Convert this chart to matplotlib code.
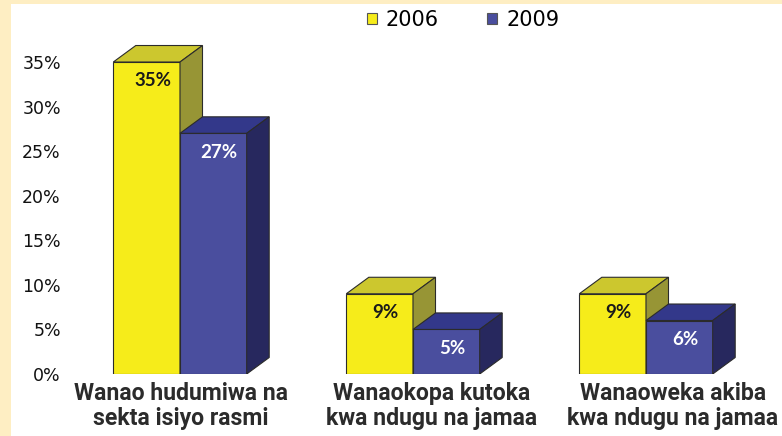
import matplotlib
matplotlib.use("Agg")
import matplotlib.pyplot as plt
from matplotlib.patches import Polygon, Rectangle, Patch
from matplotlib.ticker import FuncFormatter
from matplotlib.transforms import offset_copy

# ---- data ----
categories = ["Wanao hudumiwa na\nsekta isiyo rasmi",
              "Wanaokopa kutoka\nkwa ndugu na jamaa",
              "Wanaoweka akiba\nkwa ndugu na jamaa"]
series = ["2006", "2009"]
v2006 = [35, 9, 9]
v2009 = [27, 5, 6]
yticks = [0, 5, 10, 15, 20, 25, 30, 35]

# ---- style ----
cream = "#FEEEC3"
front = ["#F6EC1A", "#4A4E9E"]
top_c = ["#CCC72E", "#33388A"]
side_c = ["#979535", "#27285E"]
lab_c = ["#1a1a1a", "#ffffff"]
edge = "#2b2b2b"
label_shift_px = [1, 19, 27]   # horizontal nudge of category labels

W, H, DPI = 782, 436, 100
fig = plt.figure(figsize=(W / DPI, H / DPI), dpi=DPI)
fig.patch.set_facecolor(cream)
fig.add_artist(Rectangle((11 / W, 0), 1 - 11 / W, (H - 4) / H,
                         transform=fig.transFigure, facecolor="white",
                         edgecolor="none", zorder=-1))

ax_left, ax_right, ax_bot, ax_top = 65, 782, 374, 17.44
ax = fig.add_axes([ax_left / W, (H - ax_bot) / H, (ax_right - ax_left) / W,
                   (ax_bot - ax_top) / H])
ax.set_facecolor("none")

spacing_px = 233.0
ymax = 40
px_per_unit = (ax_bot - ax_top) / ymax
ax.set_ylim(0, ymax)
ax.set_xlim((ax_left - 180) / spacing_px, (ax_right - 180) / spacing_px)

w = 66.7 / spacing_px
dx = 22.5 / spacing_px
dy = 16.5 / px_per_unit

xs = list(range(len(categories)))
for si, vals in enumerate([v2006, v2009]):
    for x, v in zip(xs, vals):
        x0 = x - w if si == 0 else x
        x1 = x0 + w
        ax.add_patch(Rectangle((x0, 0), w, v, facecolor=front[si],
                               edgecolor=edge, lw=0.8, zorder=2 + si))
        ax.add_patch(Polygon([(x0, v), (x1, v), (x1 + dx, v + dy), (x0 + dx, v + dy)],
                             closed=True, facecolor=top_c[si], edgecolor=edge,
                             lw=0.8, zorder=2 + si))
        ax.add_patch(Polygon([(x1, 0), (x1, v), (x1 + dx, v + dy), (x1 + dx, dy)],
                             closed=True, facecolor=side_c[si], edgecolor=edge,
                             lw=0.8, zorder=2 + si))
        ax.annotate(f"{v}%", xy=(x0 + w / 2, v), xytext=(4.2, -13.5),
                    textcoords="offset points", ha="center", va="center",
                    fontsize=13.5, fontfamily="Lato", fontweight="bold",
                    color=lab_c[si], zorder=5)

ax.set_yticks(yticks)
ax.yaxis.set_major_formatter(FuncFormatter(lambda v, p: f"{v:.0f}%"))
ax.tick_params(axis="y", length=0, pad=3, labelsize=12.5, labelcolor="#111111")
for lab in ax.get_yticklabels():
    lab.set_fontfamily("DejaVu Sans")
ax.set_xticks([])
for x, txt, sh in zip(xs, categories, label_shift_px):
    tr = offset_copy(ax.get_xaxis_transform(), fig=fig, x=sh * 72 / DPI,
                     y=-51 * 72 / DPI, units="points")
    ax.text(x, 0, txt, transform=tr, ha="center", va="baseline",
            fontfamily="Roboto", fontweight="bold", fontsize=16.6,
            color="#2b2b2b", linespacing=1.13, multialignment="center")
for s in ax.spines.values():
    s.set_visible(False)

handles = [Patch(facecolor=front[i], edgecolor="#555555", lw=0.8) for i in range(2)]
fig.legend(handles, series, loc="center", bbox_to_anchor=(463 / W, 1 - 20 / H),
           ncol=2, frameon=False, handlelength=0.48,
           handleheight=0.48, handletextpad=0.45, columnspacing=2.3,
           borderpad=0, borderaxespad=0, prop={"family": "DejaVu Sans", "size": 15})

fig.savefig("out.png", dpi=DPI, facecolor=cream)
